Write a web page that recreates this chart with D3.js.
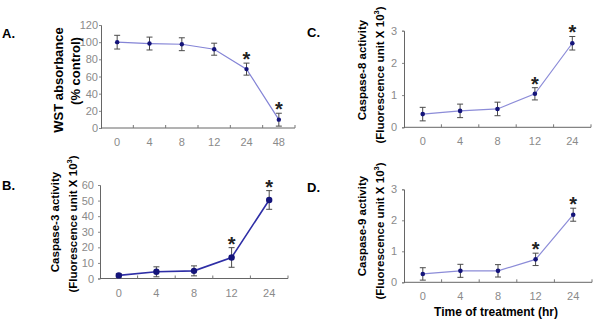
<!DOCTYPE html>
<html>
<head>
<meta charset="utf-8">
<script src="https://cdn.jsdelivr.net/npm/d3@7"></script>
<style>
body { margin: 0; background: #fff; }
svg { display: block; font-family: "Liberation Sans", Arial, sans-serif; }
</style>
</head>
<body>
<svg id="svg" width="596" height="319"></svg>
<script>
// time points
var hoursA = ["0", "4", "8", "12", "24", "48"];
var hoursBCD = ["0", "4", "8", "12", "24"];

// WST absorbance (% control)
var wstMean = [100, 98.4, 97.6, 91.8, 68.6, 9.7];
var wstErr = [8, 7.5, 7.5, 7, 7, 7.5];
var wstStar = [false, false, false, false, true, true];

// caspase-3
var casp3Mean = [2, 4.3, 4.9, 13.5, 50.4];
var casp3Err = [1, 3.2, 3.2, 6.3, 6];
var casp3Star = [false, false, false, true, true];

// caspase-8
var casp8Mean = [0.41, 0.51, 0.57, 1.04, 2.61];
var casp8Err = [0.21, 0.21, 0.21, 0.19, 0.21];
var casp8Star = [false, false, false, true, true];

// caspase-9
var casp9Mean = [0.27, 0.37, 0.37, 0.74, 2.18];
var casp9Err = [0.2, 0.21, 0.2, 0.2, 0.21];
var casp9Star = [false, false, false, true, true];

var ticksA = [0, 20, 40, 60, 80, 100, 120];
var ticksB = [0, 10, 20, 30, 40, 50, 60];
var ticksCD = [0, 1, 2, 3];

var svg = d3.select("#svg");

function drawPanel(p) {
    var g = svg.append("g");
    var xScale = d3.scaleBand().domain(p.cats).range(p.xr);
    var yScale = d3.scaleLinear().domain(p.yDomain).range(p.yr);

    var rows = p.cats.map((c, i) => ({ c: c, m: p.mean[i], e: p.err[i], s: p.star[i] }));
    var cx = d => xScale(d.c) + xScale.bandwidth() / 2;

    // y axis
    var yAxis = g.append("g")
        .attr("transform", `translate(${p.xr[0]},0)`)
        .call(d3.axisLeft(yScale).tickValues(p.ticks).tickFormat(d3.format("d")).tickSize(2).tickPadding(p.yPad));
    yAxis.select(".domain").attr("stroke", "#666");
    yAxis.selectAll(".tick line").attr("stroke", "#888");
    yAxis.selectAll(".tick text")
        .attr("fill", "#8a8a8a")
        .attr("font-size", 11)
        .attr("font-family", "'Liberation Sans Narrow', 'Liberation Sans', sans-serif");

    // x axis: ticks at category boundaries, pointing up
    var xAxis = g.append("g").attr("transform", `translate(0,${p.yr[0]})`);
    xAxis.append("line")
        .attr("x1", p.xr[0]).attr("x2", p.xr[1])
        .attr("stroke", "#666");
    xAxis.selectAll(".bt")
        .data(p.cats)
        .join("line")
        .attr("class", "bt")
        .attr("x1", d => xScale(d) + xScale.bandwidth())
        .attr("x2", d => xScale(d) + xScale.bandwidth())
        .attr("y1", 0).attr("y2", -3)
        .attr("stroke", "#777");
    xAxis.selectAll("text")
        .data(p.cats)
        .join("text")
        .attr("x", d => xScale(d) + xScale.bandwidth() / 2)
        .attr("y", 18)
        .attr("text-anchor", "middle")
        .attr("fill", "#8a8a8a")
        .attr("font-size", 11)
        .attr("font-family", "'Liberation Sans Narrow', 'Liberation Sans', sans-serif")
        .text(d => d);

    // line
    g.append("path")
        .datum(rows)
        .attr("fill", "none")
        .attr("stroke", p.lineColor)
        .attr("stroke-width", p.lineWidth)
        .attr("d", d3.line().x(cx).y(d => yScale(d.m)));

    // error bars
    var eb = g.append("g").attr("stroke", "#4a4a4a").attr("stroke-width", 1);
    eb.selectAll(".v").data(rows).join("line")
        .attr("x1", cx).attr("x2", cx)
        .attr("y1", d => yScale(d.m - d.e)).attr("y2", d => yScale(d.m + d.e));
    eb.selectAll(".t").data(rows).join("line")
        .attr("x1", d => cx(d) - 3).attr("x2", d => cx(d) + 3)
        .attr("y1", d => yScale(d.m + d.e)).attr("y2", d => yScale(d.m + d.e));
    eb.selectAll(".b").data(rows).join("line")
        .attr("x1", d => cx(d) - 3).attr("x2", d => cx(d) + 3)
        .attr("y1", d => yScale(d.m - d.e)).attr("y2", d => yScale(d.m - d.e));

    // markers
    g.selectAll("circle").data(rows).join("circle")
        .attr("cx", cx)
        .attr("cy", d => yScale(d.m))
        .attr("r", p.r)
        .attr("fill", "#14147a");

    // significance stars
    g.selectAll(".star").data(rows.filter(d => d.s)).join("text")
        .attr("class", "star")
        .attr("x", cx)
        .attr("y", d => yScale(d.m + d.e) + 3)
        .attr("text-anchor", "middle")
        .attr("font-size", 20)
        .attr("font-weight", "bold")
        .attr("fill", "#222")
        .text("*");

    // panel letter
    g.append("text")
        .attr("x", p.letterX).attr("y", p.letterY)
        .attr("font-size", 13).attr("font-weight", "bold")
        .text(p.letter);

    // y label (two lines, rotated)
    g.append("text")
        .attr("transform", `translate(${p.lab1[0]},${p.lab1[1]}) rotate(-90)`)
        .attr("text-anchor", "middle")
        .attr("font-size", p.labSize).attr("font-weight", "bold")
        .text(p.label1);
    var l2 = g.append("text")
        .attr("transform", `translate(${p.lab2[0]},${p.lab2[1]}) rotate(-90)`)
        .attr("text-anchor", "middle")
        .attr("font-size", p.labSize).attr("font-weight", "bold");
    if (p.sup) {
        l2.append("tspan").text(p.label2);
        l2.append("tspan").attr("font-size", 7.5).attr("dy", -5).text("3");
        l2.append("tspan").attr("dy", 5).text(")");
    } else {
        l2.text(p.label2);
    }
}

drawPanel({
    cats: hoursA, mean: wstMean, err: wstErr, star: wstStar,
    xr: [101, 295], yr: [128, 25], yDomain: [0, 120], ticks: ticksA, yPad: 1,
    lineColor: "#8484d6", lineWidth: 1.2, r: 2.2,
    letter: "A.", letterX: 2, letterY: 38,
    label1: "WST absorbance", label2: "(% control)", sup: false,
    lab1: [63, 80], lab2: [80, 71], labSize: 13
});

drawPanel({
    cats: hoursBCD, mean: casp3Mean, err: casp3Err, star: casp3Star,
    xr: [100, 288], yr: [278.5, 185], yDomain: [0, 60], ticks: ticksB, yPad: 4,
    lineColor: "#2e2ea6", lineWidth: 1.6, r: 3.2,
    letter: "B.", letterX: 2, letterY: 190,
    label1: "Caspase-3 activity", label2: "(Fluorescence unit X 10", sup: true,
    lab1: [59, 222], lab2: [77, 224], labSize: 11.5
});

drawPanel({
    cats: hoursBCD, mean: casp8Mean, err: casp8Err, star: casp8Star,
    xr: [404, 591], yr: [127.3, 30.7], yDomain: [0, 3], ticks: ticksCD, yPad: 5,
    lineColor: "#8c8cd8", lineWidth: 1.2, r: 2.3,
    letter: "C.", letterX: 307, letterY: 37,
    label1: "Caspase-8 activity", label2: "(Fluorescence unit X 10", sup: true,
    lab1: [366, 70], lab2: [384, 75], labSize: 11.5
});

drawPanel({
    cats: hoursBCD, mean: casp9Mean, err: casp9Err, star: casp9Star,
    xr: [404, 592], yr: [282.3, 189.3], yDomain: [0, 3], ticks: ticksCD, yPad: 5,
    lineColor: "#8c8cd8", lineWidth: 1.2, r: 2.3,
    letter: "D.", letterX: 307, letterY: 192,
    label1: "Caspase-9 activity", label2: "(Fluorescence unit X 10", sup: true,
    lab1: [366, 226], lab2: [384, 231], labSize: 11.5
});

// shared x title
svg.append("text")
    .attr("x", 496).attr("y", 316)
    .attr("text-anchor", "middle")
    .attr("font-size", 12).attr("font-weight", "bold")
    .text("Time of treatment (hr)");
</script>
</body>
</html>
